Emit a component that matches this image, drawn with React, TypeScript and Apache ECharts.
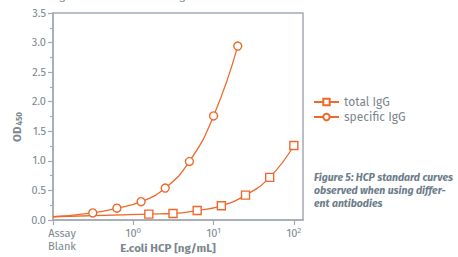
import React, { useEffect, useRef } from "react";
import * as echarts from "echarts";

const seriesNames = ["total IgG", "specific IgG"];
const blankX = 0.1;
const blankOD = 0.055;
const totalConc = [1.5625, 3.125, 6.25, 12.5, 25, 50, 100];
const totalOD = [0.1, 0.11, 0.16, 0.24, 0.42, 0.72, 1.26];
const specificConc = [0.3125, 0.625, 1.25, 2.5, 5, 10, 20];
const specificOD = [0.12, 0.2, 0.31, 0.54, 0.99, 1.76, 2.94];
const xTickValues = [0.1, 1, 10, 100];
const captionLines = [
  "Figure 5: HCP standard curves",
  "observed when using differ-",
  "ent antibodies",
];

const ORANGE = "#ee6a2c";
const AXIS = "#a3abb1";
const TEXT = "#7b868d";
const FONT = "'Fira Sans', 'Open Sans', 'Noto Sans', sans-serif";

function buildData(conc: number[], od: number[]) {
  const d: any[] = [{ value: [blankX, blankOD], symbol: "none" }];
  conc.forEach((c, i) => d.push([c, od[i]]));
  return d;
}

export default function App() {
  const ref = useRef<HTMLDivElement>(null);
  useEffect(() => {
    const chart = echarts.init(ref.current!, null, { renderer: "svg" });
    const sup = { fontSize: 8, padding: [0, 0, 6, 0], color: TEXT, fontFamily: FONT };
    chart.setOption({
      animation: false,
      grid: {
        left: 53,
        right: 155,
        top: 13,
        bottom: 37,
        show: true,
        borderColor: AXIS,
        borderWidth: 1.5,
      },
      legend: {
        orient: "vertical",
        left: 313,
        top: 96,
        padding: 0,
        itemWidth: 25,
        itemHeight: 8,
        itemGap: 3,
        textStyle: { color: TEXT, fontSize: 12, fontFamily: FONT },
        data: seriesNames,
      },
      xAxis: {
        type: "log",
        logBase: 10,
        min: 0.1,
        max: 130,
        splitLine: { show: false },
        axisLine: { lineStyle: { color: AXIS, width: 1.5 } },
        axisTick: {
          show: true,
          length: 5,
          lineStyle: { color: AXIS, width: 1.2 },
          customValues: xTickValues,
        },
        minorTick: { show: false },
        axisLabel: {
          customValues: xTickValues,
          margin: 7,
          color: TEXT,
          fontSize: 11,
          fontFamily: FONT,
          lineHeight: 13,
          formatter: (v: number) => {
            if (v < 0.5) return "{blank|Assay}\n{blank|Blank}";
            const e = Math.round(Math.log10(v));
            return "{n|10}{sup|" + e + "}";
          },
          rich: {
            blank: { fontSize: 11, lineHeight: 13, color: TEXT, fontFamily: FONT, padding: [0, 0, 0, 18] },
            n: { fontSize: 11, color: TEXT, fontFamily: FONT },
            sup,
          },
        },
      },
      yAxis: {
        type: "value",
        min: 0,
        max: 3.5,
        interval: 0.5,
        splitLine: { show: false },
        axisLine: { show: true, lineStyle: { color: AXIS, width: 1.5 } },
        axisTick: { show: true, length: 5, lineStyle: { color: AXIS, width: 1.2 } },
        minorTick: { show: true, splitNumber: 2, length: 3, lineStyle: { color: AXIS, width: 1.2 } },
        axisLabel: {
          margin: 7,
          color: TEXT,
          fontSize: 11,
          fontFamily: FONT,
          formatter: (v: number) => v.toFixed(1),
        },
      },
      series: [
        {
          name: seriesNames[0],
          type: "line",
          smooth: 0.5,
          data: buildData(totalConc, totalOD),
          symbol: "rect",
          symbolSize: 8,
          showAllSymbol: true,
          lineStyle: { color: ORANGE, width: 1.3 },
          itemStyle: { color: "#ffffff", borderColor: ORANGE, borderWidth: 1.4 },
        },
        {
          name: seriesNames[1],
          type: "line",
          smooth: 0.5,
          data: buildData(specificConc, specificOD),
          symbol: "circle",
          symbolSize: 8,
          showAllSymbol: true,
          lineStyle: { color: ORANGE, width: 1.3 },
          itemStyle: { color: "#ffffff", borderColor: ORANGE, borderWidth: 1.4 },
        },
      ],
      graphic: [
        {
          type: "text",
          rotation: Math.PI / 2,
          style: {
            text: "{b|OD}{s|450}",
            align: "center",
            verticalAlign: "middle",
            rich: {
              b: { fontSize: 11.5, fontWeight: "bold", fill: TEXT, fontFamily: FONT },
              s: { fontSize: 8, fontWeight: "bold", fill: TEXT, fontFamily: FONT, padding: [5, 0, 0, 1] },
            },
          },
          x: 17,
          y: 127,
        },
        {
          type: "text",
          x: 168,
          y: 248,
          style: {
            text: "E.coli HCP [ng/mL]",
            fill: TEXT,
            fontSize: 11.5,
            fontWeight: "bold",
            fontFamily: FONT,
            align: "center",
            verticalAlign: "middle",
          },
        },
        {
          type: "text",
          x: 314,
          y: 190,
          style: {
            text: captionLines.join("\n"),
            fill: "#6d7d89",
            fontSize: 10.5,
            lineHeight: 13,
            fontStyle: "italic",
            fontWeight: "bold",
            fontFamily: FONT,
            align: "left",
            verticalAlign: "middle",
          },
        },
        {
          type: "text",
          x: 62,
          y: 2,
          style: { text: "g", fill: TEXT, fontSize: 11, fontFamily: FONT, align: "center", verticalAlign: "bottom" },
        },
        {
          type: "text",
          x: 182,
          y: 2,
          style: { text: "g", fill: TEXT, fontSize: 11, fontFamily: FONT, align: "center", verticalAlign: "bottom" },
        },
      ],
    });
    return () => chart.dispose();
  }, []);
  return <div ref={ref} style={{ width: 458, height: 257, position: "absolute", left: 0, top: 0 }} />;
}
